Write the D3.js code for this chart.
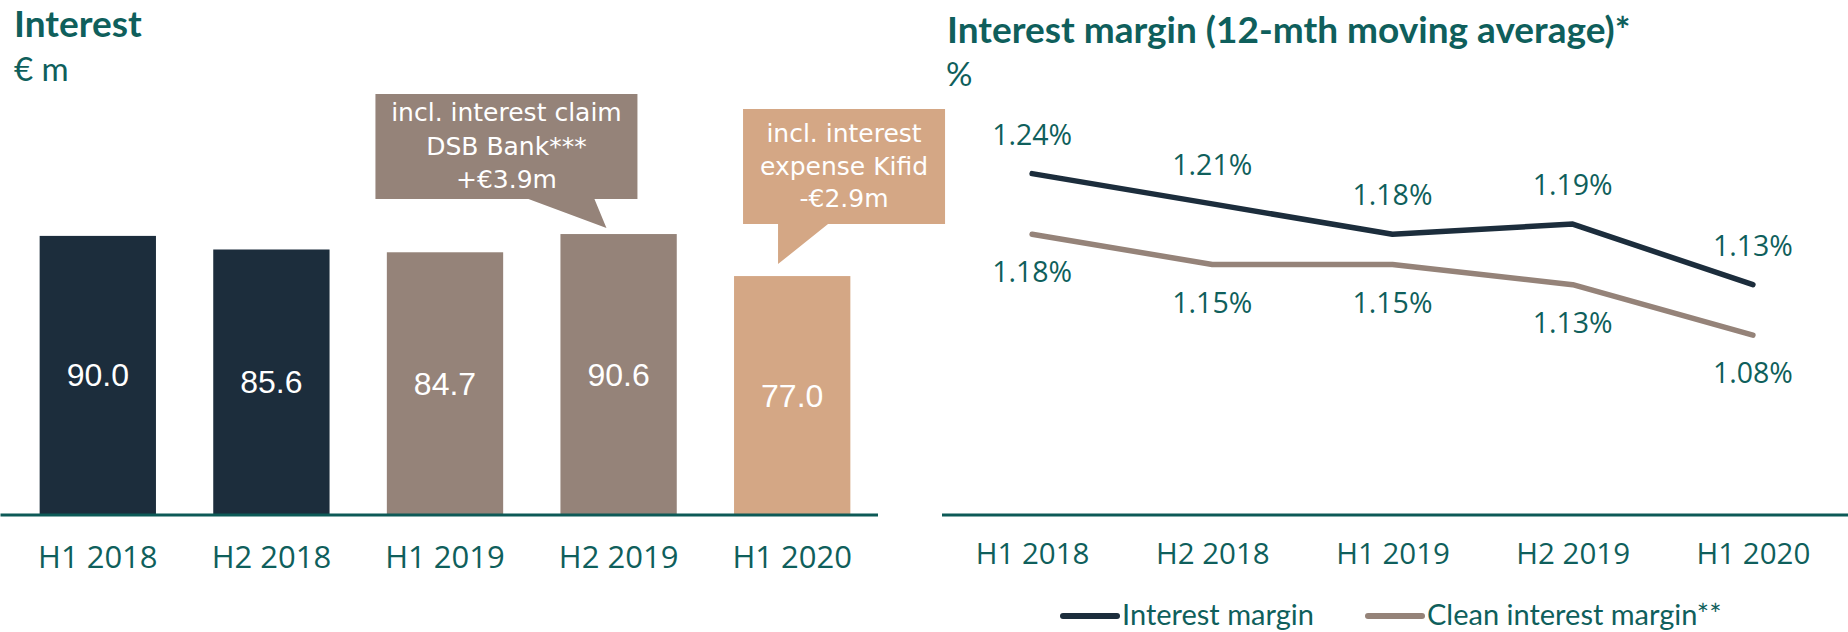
<!DOCTYPE html>
<html>
<head>
<meta charset="utf-8">
<script src="https://cdn.jsdelivr.net/npm/d3@7"></script>
<style>
  html, body { margin: 0; padding: 0; background: #ffffff; }
  svg { display: block; }
</style>
</head>
<body>
<svg id="chart" width="1848" height="632"></svg>
<script>
// ---------- DATA ----------
const categories = ["H1 2018", "H2 2018", "H1 2019", "H2 2019", "H1 2020"];
const interestValues = [90.0, 85.6, 84.7, 90.6, 77.0];
const barGroups = ["past", "past", "recent", "recent", "current"];
const interestMargin = [1.24, 1.21, 1.18, 1.19, 1.13];
const cleanInterestMargin = [1.18, 1.15, 1.15, 1.13, 1.08];
const seriesNames = ["Interest margin", "Clean interest margin**"];
const calloutDSB = ["incl. interest claim", "DSB Bank***", "+€3.9m"];
const calloutKifid = ["incl. interest", "expense Kifid", "-€2.9m"];

// ---------- STYLE ----------
const NAVY = "#1c2d3c", BROWN = "#958379", TAN = "#d4a785", TEAL = "#0f5f5c", AXIS = "#0d5a57";
const colorOf = d3.scaleOrdinal().domain(["past", "recent", "current"]).range([NAVY, BROWN, TAN]);

const svg = d3.select("#chart");

// ---------- LEFT: bar chart ----------
const xL = d3.scaleBand().domain(categories).range([11, 879]).paddingInner(0.33).paddingOuter(0.165);
const yL = d3.scaleLinear().domain([0, 100]).range([514, 205]);

svg.append("text").attr("x", 14).attr("y", 37)
  .attr("font-family", "Lato").attr("font-weight", 700).attr("font-size", 37)
  .attr("fill", TEAL).text("Interest");
svg.append("text").attr("x", 14).attr("y", 81)
  .attr("font-family", "Lato").attr("font-size", 33)
  .attr("fill", TEAL).text("€ m");

const bars = svg.append("g");
bars.selectAll("rect").data(categories).join("rect")
  .attr("x", d => xL(d)).attr("width", xL.bandwidth())
  .attr("y", (d, i) => yL(interestValues[i]))
  .attr("height", (d, i) => yL(0) - yL(interestValues[i]))
  .attr("fill", (d, i) => colorOf(barGroups[i]));

bars.selectAll("text.val").data(categories).join("text").attr("class", "val")
  .attr("x", d => xL(d) + xL.bandwidth() / 2)
  .attr("y", (d, i) => (yL(interestValues[i]) + yL(0)) / 2 + 11.5)
  .attr("text-anchor", "middle")
  .attr("font-family", "Liberation Sans").attr("font-size", 32)
  .attr("fill", "#ffffff")
  .text((d, i) => d3.format(".1f")(interestValues[i]));

// axis
const axL = svg.append("g").attr("transform", "translate(0,515)")
  .call(d3.axisBottom(xL).tickSize(0).tickPadding(0));
axL.select(".domain").attr("stroke", AXIS).attr("stroke-width", 3).attr("d", "M0.5,0H878");
axL.selectAll(".tick text").attr("y", 53).attr("dy", 0)
  .attr("font-family", "Open Sans").attr("font-size", 31).attr("fill", TEAL);

// callouts
function callout(cat, value, lines, fill, geom) {
  const bx = xL(cat), top = yL(value);
  const g = svg.append("g");
  const x0 = bx + geom.left, x1 = bx + geom.right, y0 = top + geom.top, y1 = top + geom.bottom;
  const path = d3.path();
  path.moveTo(x0, y0); path.lineTo(x1, y0); path.lineTo(x1, y1);
  path.lineTo(bx + geom.baseR, y1);
  path.lineTo(bx + geom.tipX, top + geom.tipY);
  path.lineTo(bx + geom.baseL, y1);
  path.lineTo(x0, y1); path.closePath();
  g.append("path").attr("d", path.toString()).attr("fill", fill);
  g.selectAll("text").data(lines).join("text")
    .attr("x", (x0 + x1) / 2)
    .attr("y", (d, i) => y0 + geom.firstBase + i * geom.lineH)
    .attr("text-anchor", "middle")
    .attr("font-family", "DejaVu Sans").attr("font-size", 25)
    .attr("fill", "#ffffff").text(d => d);
}
callout("H2 2019", interestValues[3], calloutDSB, BROWN,
  { left: -185, right: 77, top: -140, bottom: -35, baseL: -32, baseR: 34, tipX: 46, tipY: -6, firstBase: 27, lineH: 33.5 });
callout("H1 2020", interestValues[4], calloutKifid, TAN,
  { left: 9, right: 211, top: -167, bottom: -52, baseL: 44, baseR: 94, tipX: 44, tipY: -12, firstBase: 33, lineH: 32.5 });

// ---------- RIGHT: line chart ----------
const xR = d3.scalePoint().domain(categories).range([942, 1843]).padding(0.5);
const yR = d3.scaleLinear().domain([0.9, 1.3]).range([517, 113]);

svg.append("text").attr("x", 947).attr("y", 43)
  .attr("font-family", "Lato").attr("font-weight", 700).attr("font-size", 37)
  .attr("fill", TEAL).text("Interest margin (12-mth moving average)*");
svg.append("text").attr("x", 946).attr("y", 86)
  .attr("font-family", "Lato").attr("font-size", 33)
  .attr("fill", TEAL).text("%");

const axR = svg.append("g").attr("transform", "translate(0,515)")
  .call(d3.axisBottom(xR).tickSize(0).tickPadding(0));
axR.select(".domain").attr("stroke", AXIS).attr("stroke-width", 3).attr("d", "M942,0H1848");
axR.selectAll(".tick text").attr("y", 49).attr("dy", 0)
  .attr("font-family", "Open Sans").attr("font-size", 29.5).attr("fill", TEAL);

const line = d3.line().x((d, i) => xR(categories[i])).y(d => yR(d));
const series = [
  { name: seriesNames[0], values: interestMargin, color: NAVY, dy: -29 },
  { name: seriesNames[1], values: cleanInterestMargin, color: BROWN, dy: 48 }
];
series.forEach(s => {
  svg.append("path").datum(s.values).attr("d", line)
    .attr("fill", "none").attr("stroke", s.color).attr("stroke-width", 5.5)
    .attr("stroke-linecap", "round").attr("stroke-linejoin", "round");
  svg.append("g").selectAll("text").data(s.values).join("text")
    .attr("x", (d, i) => xR(categories[i]))
    .attr("y", d => yR(d) + s.dy)
    .attr("text-anchor", "middle")
    .attr("font-family", "Open Sans").attr("font-size", 28.5).attr("fill", TEAL)
    .text(d => d3.format(".2f")(d) + "%");
});

// legend
const legendX = [1063, 1368];
series.forEach((s, i) => {
  const g = svg.append("g").attr("transform", `translate(${legendX[i]},616)`);
  g.append("line").attr("x1", 0).attr("x2", 54).attr("y1", 0).attr("y2", 0)
    .attr("stroke", s.color).attr("stroke-width", 6).attr("stroke-linecap", "round");
  g.append("text").attr("x", 59).attr("y", 9)
    .attr("font-family", "Lato").attr("font-size", 29).attr("fill", TEAL).text(s.name);
});
</script>
</body>
</html>
